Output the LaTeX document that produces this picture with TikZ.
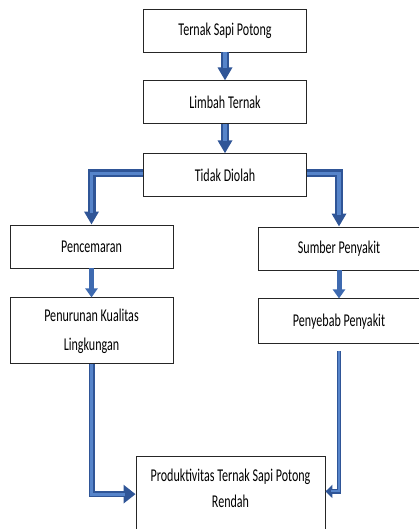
\documentclass[tikz,border=0pt]{standalone}
\usepackage{fontspec}
\setmainfont[FakeStretch=0.67]{Carlito}
\usepackage{tikz}
\definecolor{flowdark}{RGB}{47, 85, 151}
\definecolor{flowlight}{RGB}{86, 132, 202}
\definecolor{flowmid}{RGB}{62, 106, 176}
\usetikzlibrary{arrows.meta, positioning}

\begin{document}
\begin{tikzpicture}[
    x=1pt, y=-1pt,
    node distance=28pt,
    flowbox/.style={rectangle, draw=black!85, line width=0.9pt, minimum width=163pt, minimum height=43pt, inner sep=2pt, align=center, font=\fontsize{18}{29}\selectfont},
    bigarrow/.style={-{Triangle[width=14pt, length=13pt]}, line width=8pt, flowdark, postaction={draw=flowlight, line width=3.5pt, -, shorten >=12pt}},
    smallarrow/.style={-{Triangle[width=12pt, length=9pt]}, line width=5pt, flowmid},
    endarrow/.style={-{Triangle[width=18pt, length=12pt]}, line width=6pt, flowdark, postaction={draw=flowlight, line width=3pt, -, shorten >=11pt}},
    thinarrow/.style={-{Triangle[width=13pt, length=7pt]}, line width=4.5pt, flowdark, postaction={draw=flowlight, line width=2pt, -, shorten >=6pt}}
]
    \useasboundingbox (0,0) rectangle (419,529);

    \node[flowbox] (sapi) at (225,30.5) {Ternak Sapi Potong};
    \node[flowbox, below=of sapi] (limbah) {Limbah Ternak};
    \node[flowbox, below=29pt of limbah] (tidak) {Tidak Diolah};

    \node[flowbox] (cemar) at (91.5,246.5) {Pencemaran};
    \node[flowbox, below=29pt of cemar, minimum height=66pt] (kualitas) {Penurunan Kualitas\\Lingkungan};

    \node[flowbox, minimum width=162pt] (sumber) at (339,248.5) {Sumber Penyakit};
    \node[flowbox, below=of sumber, minimum width=162pt, minimum height=45pt] (penyebab) {Penyebab Penyakit};

    \node[flowbox, anchor=north, minimum width=189pt, minimum height=90pt, font=\fontsize{18}{26}\selectfont] (hasil) at (230.5,456) {Produktivitas Ternak Sapi Potong\\Rendah\\\mbox{}};

    \draw[bigarrow] (sapi) -- (limbah);
    \draw[bigarrow] (limbah) -- (tidak);
    \draw[bigarrow] ([yshift=2pt]tidak.west) -| (cemar.north);
    \draw[bigarrow] ([yshift=2pt]tidak.east) -| (sumber.north);

    \draw[smallarrow] (cemar) -- (kualitas);
    \draw[smallarrow] (sumber) -- (penyebab);

    \draw[endarrow] (kualitas.south) |- ([yshift=7.3pt]hasil.west);
    \draw[thinarrow] ([yshift=-7pt]penyebab.south) |- ([yshift=10pt]hasil.east);
\end{tikzpicture}
\end{document}
